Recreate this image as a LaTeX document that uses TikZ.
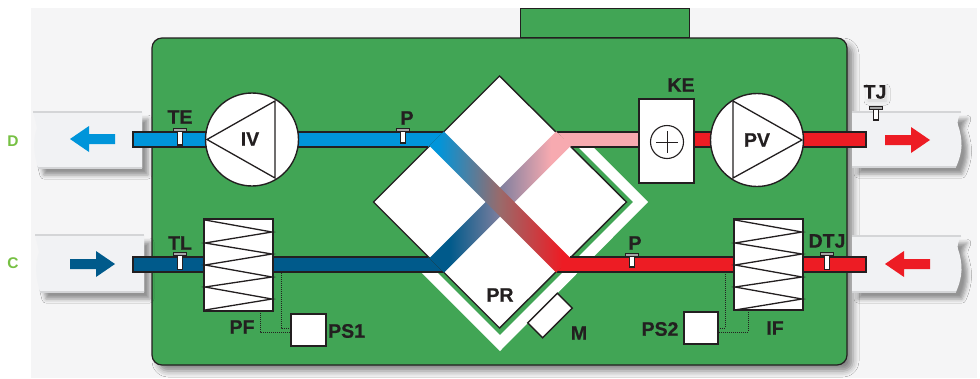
\documentclass[tikz,border=0pt]{standalone}
\usepackage{fontspec}
\setmainfont{Liberation Sans}
\newfontfamily\labfont[FakeBold=0.6]{Liberation Sans Bold}
\usetikzlibrary{shadows.blur,calc}
\definecolor{bgray}{HTML}{F5F5F6}
\definecolor{boxgreen}{HTML}{41A555}
\definecolor{ink}{HTML}{231F20}
\definecolor{ductface}{HTML}{F1F2F4}
\definecolor{ductedge}{HTML}{D4D5D7}
\definecolor{lblue}{HTML}{0095DA}
\definecolor{dblue}{HTML}{005A8B}
\definecolor{pinkair}{HTML}{F7AAB0}
\definecolor{redair}{HTML}{ED1C24}
\definecolor{midA}{HTML}{9A6A6A}
\definecolor{midB}{HTML}{7F7F9E}
\definecolor{lettergreen}{HTML}{76C043}
\pgfdeclarehorizontalshading{bandAshade}{100bp}{color(0bp)=(lblue); color(28bp)=(lblue); color(50bp)=(midA); color(72bp)=(redair); color(100bp)=(redair)}
\pgfdeclarehorizontalshading{bandBshade}{100bp}{color(0bp)=(dblue); color(32bp)=(dblue); color(50bp)=(midB); color(68bp)=(pinkair); color(100bp)=(pinkair)}
\tikzset{
  x=1pt,y=-1pt,
  outl/.style={draw=ink,line width=1.4pt,line join=miter},
  unit/.style={outl,fill=white,inner sep=0pt,outer sep=0pt},
  lab/.style={text=ink,font=\fontsize{19.5}{20}\selectfont\labfont,inner sep=0pt},
  sidelab/.style={text=lettergreen,font=\fontsize{15.5}{15.5}\selectfont\bfseries,inner sep=0pt},
  duct/.style={fill=ductface,draw=none,blur shadow={shadow xshift=6pt,shadow yshift=-7pt,shadow blur radius=4pt,shadow opacity=40}},
  ductline/.style={draw=ductedge,line width=1.3pt},
  dots/.style={draw=ink,line width=0.8pt,dash pattern=on 1pt off 1pt},
  coilline/.style={draw=ink,line width=1.3pt},
  band/.style={shade,minimum width=179pt,minimum height=20.5pt,inner sep=0pt},
  sensor/.pic={
    \draw[draw=ink,fill=white,line width=1.1pt] (-2.5,3) rectangle (2.5,#1);
    \draw[draw=ink,fill=gray!70,line width=1pt] (-6.5,0) rectangle (6.5,3);
  },
  coil/.pic={
    \draw[coilline] (1,1)--(68,13)--(1,24)--(68,35)--(1,46)--(68,58)--(1,68)--(68,80)--(1,91);
  },
}
\begin{document}
\begin{tikzpicture}
\useasboundingbox (0,0) rectangle (980,378);
\fill[bgray] (31,8) rectangle (977,378);
% housing
\path[fill=boxgreen,draw=ink,line width=1.2pt,rounded corners=10pt,blur shadow={shadow xshift=6pt,shadow yshift=-6pt,shadow blur radius=6pt,shadow opacity=45}] (152,38) rectangle (847,365);
\node[draw=ink,fill=boxgreen,line width=1.2pt,inner sep=0pt,minimum width=169pt,minimum height=29pt,anchor=south west] (top) at (520,38) {};
% outer duct sleeves
\begin{scope}
\clip (37,100) rectangle (165,190);
\path[duct] (33,112) -- (142,112) -- (142,168) -- (38,168) .. controls (33,150) and (33,140) .. (37,128) .. controls (36,122) and (34,116) .. (33,112) -- cycle;
\end{scope}
\fill[ductface] (33,112) -- (142,112) -- (142,168) -- (38,168) .. controls (33,150) and (33,140) .. (37,128) .. controls (36,122) and (34,116) .. (33,112) -- cycle;
\draw[ductline] (33,112) -- (142,112) (142,168) -- (38,168);
\begin{scope}
\clip (39,225) rectangle (167,315);
\path[duct] (35,235) -- (144,235) -- (144,292) -- (40,292) .. controls (35,274) and (35,264) .. (39,252) .. controls (38,246) and (36,240) .. (35,235) -- cycle;
\end{scope}
\fill[ductface] (35,235) -- (144,235) -- (144,292) -- (40,292) .. controls (35,274) and (35,264) .. (39,252) .. controls (38,246) and (36,240) .. (35,235) -- cycle;
\draw[ductline] (35,235) -- (144,235) (144,292) -- (40,292);
\path[duct] (852,112) -- (961,112) .. controls (958,118) and (957,122) .. (958,125) .. controls (963,140) and (963,152) .. (956,167) -- (852,167) -- cycle;
\draw[ductline] (961,112) -- (852,112) (852,167) -- (956,167);
\path[duct] (852,236) -- (961,236) .. controls (958,242) and (957,246) .. (958,249) .. controls (963,264) and (963,276) .. (956,292) -- (852,292) -- cycle;
\draw[ductline] (961,236) -- (852,236) (852,292) -- (956,292);
% soft shadow behind the TJ label
\path[fill=bgray,blur shadow={shadow xshift=2pt,shadow yshift=-2pt,shadow blur radius=4pt,shadow opacity=14}] (866,86) rectangle (884,99);
% flow arrows
\fill[lblue] (70,139) -- (89,126) -- (89,134) -- (115,134) -- (115,144) -- (89,144) -- (89,152) -- cycle;
\fill[dblue] (115,264) -- (96,251) -- (96,259) -- (70,259) -- (70,269) -- (96,269) -- (96,277) -- cycle;
\fill[redair] (930,140) -- (911,127) -- (911,135) -- (885,135) -- (885,145) -- (911,145) -- (911,153) -- cycle;
\fill[redair] (885,264) -- (904,251) -- (904,259) -- (930,259) -- (930,269) -- (904,269) -- (904,277) -- cycle;
% white ring behind the exchanger
\fill[white] (578,147) -- (593,147) -- (648,202) -- (500,351) -- (421,272) -- (437,272) -- (500,335) -- (633,202) -- cycle;
% exchanger
\path[unit,draw=ink] (499.5,76) -- (626.5,202) -- (499.5,328) -- (373.5,202) -- cycle;
% straight ducts
\path[fill=lblue] (133,132) -- (443,132) -- (428,147) -- (133,147) -- cycle;
\draw[outl] (443,132) -- (133,132) -- (133,147) -- (428,147);
\path[fill=dblue] (133,257) -- (428,257) -- (443,272) -- (133,272) -- cycle;
\draw[outl] (428,257) -- (133,257) -- (133,272) -- (443,272);
\path[fill=pinkair] (557,132) -- (640,132) -- (640,147) -- (571,147) -- cycle;
\draw[outl] (557,132) -- (640,132) (640,147) -- (571,147);
\path[fill=redair] (570,257) -- (735,257) -- (735,272) -- (557,272) -- cycle;
\draw[outl] (570,257) -- (735,257) (735,272) -- (557,272);
\path[fill=redair,draw=ink,line width=1.4pt] (694,132) rectangle (712,147);
\path[fill=redair] (800,132) -- (866,132) -- (866,147) -- (800,147) -- cycle;
\draw[outl] (800,132) -- (866,132) -- (866,147) -- (800,147);
\path[fill=redair] (802,257) -- (866,257) -- (866,272) -- (802,272) -- cycle;
\draw[outl] (802,257) -- (866,257) -- (866,272) -- (802,272);
% crossing air bands
\node[band,rotate=45,shading=bandBshade] (bandB) at (500,202) {};
\node[band,rotate=-45,shading=bandAshade] (bandA) at (500,202) {};
% units
\node[unit,circle,minimum size=93pt] (IV) at (252,139.5) {};
\draw[coilline] (207,139.5) -- (275,101) -- (275,178) -- cycle;
\node[lab] at (250,139) {IV};
\node[unit,circle,minimum size=93pt] (PV) at (757,140) {};
\draw[coilline] (802,140) -- (733,101) -- (733,178) -- cycle;
\node[lab] at (757,140) {PV};
\node[unit,minimum width=55pt,minimum height=84pt] (KE) at (666.5,141) {};
\node[unit,circle,minimum size=33pt,line width=1.1pt] (KEc) at (667,142) {};
\draw[ink,line width=0.5pt] ($(KEc)+(-11,0)$) -- ($(KEc)+(11,0)$) ($(KEc)+(0,-11)$) -- ($(KEc)+(0,11)$);
\node[unit,minimum width=69pt,minimum height=92pt,anchor=north west] (PF) at (204,219) {};
\pic at (204,219) {coil};
\node[unit,minimum width=69pt,minimum height=91pt,anchor=north west] (IF) at (734,219) {};
\pic at (734,219) {coil};
\node[unit,minimum width=35pt,minimum height=32pt,anchor=north west] (PS1) at (291,314) {};
\node[unit,minimum width=34pt,minimum height=32pt,anchor=north west] (PS2) at (684,312) {};
\node[unit,rotate=45,minimum width=42pt,minimum height=21pt] (M) at (550,315.5) {};
% control wiring
\coordinate (a1) at (260,311); \coordinate (a2) at (260,332);
\coordinate (b1) at (281,273); \coordinate (b2) at (281,328);
\coordinate (c1) at (748,310); \coordinate (c2) at (748,332);
\coordinate (d1) at (725,272); \coordinate (d2) at (725,328);
\draw[dots] (a1) -- (a2) -- (a2 -| PS1.west);
\draw[dots] (b1) -- (b2) -- (b2 -| PS1.west);
\draw[dots] (c1) -- (c2) -- (c2 -| PS2.east);
\draw[dots] (d1) -- (d2) -- (d2 -| PS2.east);
% sensors
\pic at (180,128) {sensor={17}};
\pic at (180,252.5) {sensor={17}};
\pic at (403,128) {sensor={15}};
\pic at (632,253) {sensor={14}};
\pic at (827,252.5) {sensor={17}};
\pic at (876,106) {sensor={14}};
% labels
\node[lab] at (180,117) {TE};
\node[lab] at (180,243) {TL};
\node[lab] at (407,118) {P};
\node[lab] at (635,243) {P};
\node[lab] at (500,295) {PR};
\node[lab] at (579,333) {M};
\node[lab] at (681,85) {KE};
\node[lab] at (875,92) {TJ};
\node[lab] at (827,241) {DTJ};
\node[lab] at (242,327) {PF};
\node[lab,anchor=west] at (328,331) {PS1};
\node[lab] at (660,329) {PS2};
\node[lab] at (775,328) {IF};
\node[sidelab] at (13,141) {D};
\node[sidelab] at (13,263) {C};
\end{tikzpicture}
\end{document}
